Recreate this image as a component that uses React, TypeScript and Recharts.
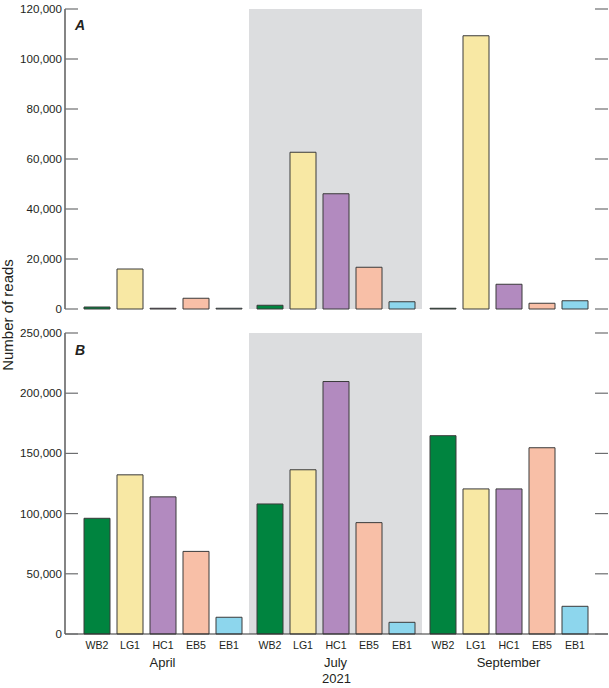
import { BarChart, Bar, XAxis, YAxis, ReferenceArea, LabelList } from 'recharts';

const months = ['April', 'July', 'September'];
const sites = ['WB2', 'LG1', 'HC1', 'EB5', 'EB1'];
const siteColors = ['#00843f', '#f8e8a4', '#b28abf', '#f8bfa7', '#8dd6ed'];

// panel A, values for April, July, September
const wb2A = [800, 1500, 300];
const lg1A = [16000, 62700, 109300];
const hc1A = [300, 46100, 9900];
const eb5A = [4300, 16700, 2300];
const eb1A = [300, 2900, 3300];

// panel B
const wb2B = [96100, 108000, 164700];
const lg1B = [132200, 136400, 120500];
const hc1B = [113900, 209700, 120500];
const eb5B = [68600, 92500, 154700];
const eb1B = [13900, 9700, 23000];

const ticksA = [0, 20000, 40000, 60000, 80000, 100000, 120000];
const ticksB = [0, 50000, 100000, 150000, 200000, 250000];

const FONT = "'Liberation Sans', Arial, sans-serif";
const INK = '#231f20';
const PLOT_LEFT = 65;
const PLOT_RIGHT = 608;

const buildRows = (cols: number[][]) =>
  months.map((month, i) => {
    const row: Record<string, string | number> = { month };
    sites.forEach((s, j) => (row[s] = cols[j][i]));
    return row;
  });

const dataA = buildRows([wb2A, lg1A, hc1A, eb5A, eb1A]);
const dataB = buildRows([wb2B, lg1B, hc1B, eb5B, eb1B]);

// tick marks point inwards on both sides of the frame
function YTick(props: any) {
  const { y, payload } = props;
  return (
    <g>
      <line x1={PLOT_LEFT} x2={PLOT_LEFT + 13} y1={y} y2={y} stroke="#6d6e70" strokeWidth={1.2} />
      <line x1={PLOT_RIGHT - 13} x2={PLOT_RIGHT} y1={y} y2={y} stroke="#6d6e70" strokeWidth={1.2} />
      <text x={PLOT_LEFT - 3} y={y} dy="0.35em" textAnchor="end" fontSize={11.6} fill={INK} fontFamily={FONT}>
        {Number(payload.value).toLocaleString('en-US')}
      </text>
    </g>
  );
}

function Panel({ data, ticks, max, top, height, margin, showLabels }: any) {
  return (
    <div style={{ position: 'absolute', left: 0, top }}>
      <BarChart width={609} height={height} data={data} margin={margin} barCategoryGap={8} barGap={7}>
        <ReferenceArea x1="July" x2="July" fill="#dcdddf" fillOpacity={1} stroke="none" />
        <XAxis
          dataKey="month"
          padding={{ left: 11, right: 13 }}
          axisLine={{ stroke: '#333', strokeWidth: 1.2 }}
          tickLine={false}
          tickSize={0}
          tickMargin={24}
          height={showLabels ? 50 : 0}
          tick={showLabels ? { fontSize: 13, fill: INK, fontFamily: FONT } : false}
          label={showLabels ? { value: '2021', position: 'insideBottom', offset: 1, fontSize: 13, fill: INK, fontFamily: FONT } : undefined}
        />
        <XAxis xAxisId="top" dataKey="month" orientation="top" height={0} tick={false} tickLine={false} axisLine={{ stroke: '#555', strokeWidth: 1.2 }} />
        <YAxis
          domain={[0, max]}
          ticks={ticks}
          width={65}
          tickSize={0}
          tickMargin={3}
          tickLine={false}
          axisLine={{ stroke: '#333', strokeWidth: 1.2 }}
          tick={<YTick />}
          interval={0}
        />
        <YAxis yAxisId="r" orientation="right" domain={[0, max]} width={0} tick={false} tickLine={false} axisLine={{ stroke: '#333', strokeWidth: 1.2 }} />
        {sites.map((s, j) => (
          <Bar key={s} dataKey={s} fill={siteColors[j]} stroke="#3a3a3a" strokeWidth={1} isAnimationActive={false}>
            {showLabels && (
              <LabelList
                dataKey={s}
                position="bottom"
                offset={7}
                formatter={() => s}
                style={{ fontSize: 10.6, fill: INK, fontFamily: FONT }}
              />
            )}
          </Bar>
        ))}
      </BarChart>
    </div>
  );
}

export default function App() {
  return (
    <div style={{ position: 'relative', width: 609, height: 688, background: '#fff', fontFamily: FONT }}>
      <style>{'body{margin:0}'}</style>
      <Panel data={dataA} ticks={ticksA} max={120000} top={0} height={320} margin={{ top: 9, right: 1, bottom: 11, left: 0 }} showLabels={false} />
      <Panel data={dataB} ticks={ticksB} max={250000} top={320} height={368} margin={{ top: 13, right: 1, bottom: 4, left: 0 }} showLabels={true} />
      <svg width={609} height={688} style={{ position: 'absolute', left: 0, top: 0, pointerEvents: 'none' }}>
        <text x={13} y={315} transform="rotate(-90, 13, 315)" textAnchor="middle" fontSize={15} fill={INK} fontFamily={FONT}>
          Number of reads
        </text>
        <text x={75} y={30} fontSize={14} fontWeight="bold" fontStyle="italic" fill={INK} fontFamily={FONT}>A</text>
        <text x={75} y={355} fontSize={14} fontWeight="bold" fontStyle="italic" fill={INK} fontFamily={FONT}>B</text>
      </svg>
    </div>
  );
}
